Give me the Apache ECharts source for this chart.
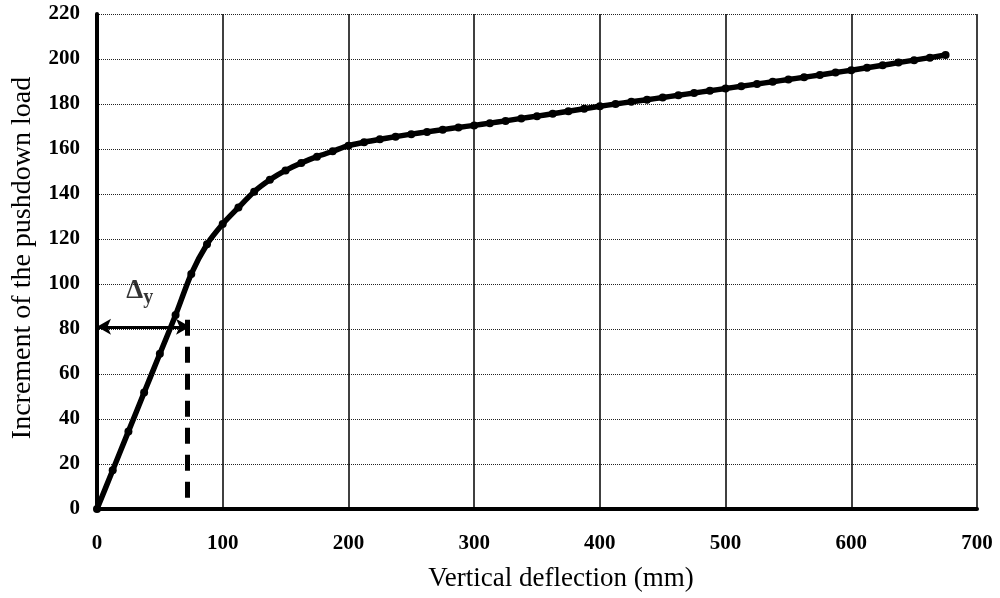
<!DOCTYPE html>
<html>
<head>
<meta charset="utf-8">
<script src="https://cdn.jsdelivr.net/npm/echarts@6/dist/echarts.min.js"></script>
<style>
  html, body { margin: 0; padding: 0; background: #fff; }
  #chart { width: 1000px; height: 598px; }
</style>
</head>
<body>
<div id="chart"></div>
<script>
// deflection (mm) and load increment
const deflection = [
  0, 12.5, 25, 37.5, 50, 62.5, 75, 87.5, 100, 112.5, 125, 137.5, 150, 162.5, 175, 187.5,
  200, 212.5, 225, 237.5, 250, 262.5, 275, 287.5, 300, 312.5, 325, 337.5, 350, 362.5,
  375, 387.5, 400, 412.5, 425, 437.5, 450, 462.5, 475, 487.5, 500, 512.5, 525, 537.5,
  550, 562.5, 575, 587.5, 600, 612.5, 625, 637.5, 650, 662.5, 675
]
const load = [
  0, 17.2, 34.5, 51.8, 69, 86.2, 104.5, 117.7, 126.7, 134, 141, 146.3, 150.5, 153.8, 156.6, 159,
  161.5, 163, 164.3, 165.5, 166.6, 167.6, 168.6, 169.6, 170.5, 171.5, 172.5, 173.6, 174.6, 175.7,
  176.8, 177.9, 179, 180, 181, 181.9, 182.9, 183.9, 184.9, 185.9, 186.9, 187.9, 188.9, 189.9,
  190.9, 191.9, 192.9, 194, 195, 196.1, 197.2, 198.4, 199.5, 200.6, 201.8
]

// yield deflection marker
const dyDash = [[72, 5], [72, 88]]
const dyArrow = [[0, 81], [74, 81]]
const dyLabel = [[34, 97]]

const serif = 'Liberation Serif'

const chart = echarts.init(document.getElementById('chart'))
chart.setOption({
  animation: false,
  grid: { left: 97, right: 23, top: 14, bottom: 89 },
  graphic: [
    {
      type: 'text',
      x: 561,
      y: 579,
      style: {
        text: 'Vertical deflection (mm)',
        font: '27px "Liberation Serif"',
        fill: '#000',
        align: 'center',
        verticalAlign: 'middle'
      }
    },
    {
      type: 'text',
      x: 23,
      y: 258,
      rotation: Math.PI / 2,
      style: {
        text: 'Increment of the pushdown load',
        font: '28px "Liberation Serif"',
        fill: '#000',
        align: 'center',
        verticalAlign: 'middle'
      }
    }
  ],
  xAxis: {
    type: 'value',
    min: 0,
    max: 700,
    interval: 100,
    axisLine: { show: true, onZero: false, lineStyle: { color: '#000', width: 4 } },
    axisTick: { show: false },
    axisLabel: { fontFamily: serif, fontWeight: 'bold', fontSize: 21, color: '#000', margin: 24 },
    splitLine: { show: true, lineStyle: { color: '#000', width: 1.5 } }
  },
  yAxis: {
    type: 'value',
    min: 0,
    max: 220,
    interval: 20,
    axisLine: { show: true, onZero: false, lineStyle: { color: '#000', width: 4 } },
    axisTick: { show: false },
    axisLabel: { fontFamily: serif, fontWeight: 'bold', fontSize: 21, color: '#000', margin: 17 },
    splitLine: { show: true, lineStyle: { color: '#222', width: 1, type: 'dotted' } }
  },
  series: [
    {
      type: 'line',
      data: deflection.map((d, i) => [d, load[i]]),
      smooth: 0.25,
      symbol: 'circle',
      symbolSize: 8,
      showAllSymbol: true,
      itemStyle: { color: '#000' },
      lineStyle: { color: '#000', width: 5.5 },
      z: 5
    },
    {
      type: 'line',
      data: dyDash,
      symbol: 'none',
      lineStyle: { color: '#000', width: 5, type: [16, 11] },
      z: 4
    },
    {
      type: 'line',
      data: dyArrow,
      symbol: 'none',
      lineStyle: { width: 0 },
      markLine: {
        silent: true,
        symbol: ['arrow', 'arrow'],
        symbolSize: [12, 14],
        label: { show: false },
        lineStyle: { color: '#000', width: 3, type: 'solid' },
        data: [[{ coord: dyArrow[0] }, { coord: dyArrow[1] }]]
      },
      z: 6
    },
    {
      type: 'scatter',
      data: dyLabel,
      symbolSize: 0,
      label: {
        show: true,
        position: 'inside',
        formatter: '{d|Δ}{s|y}',
        rich: {
          d: { fontFamily: serif, fontWeight: 'bold', fontSize: 27, color: '#000' },
          s: { fontFamily: serif, fontWeight: 'bold', fontSize: 20, color: '#000', padding: [14, 0, 0, 0] }
        }
      }
    }
  ]
})
</script>
</body>
</html>
